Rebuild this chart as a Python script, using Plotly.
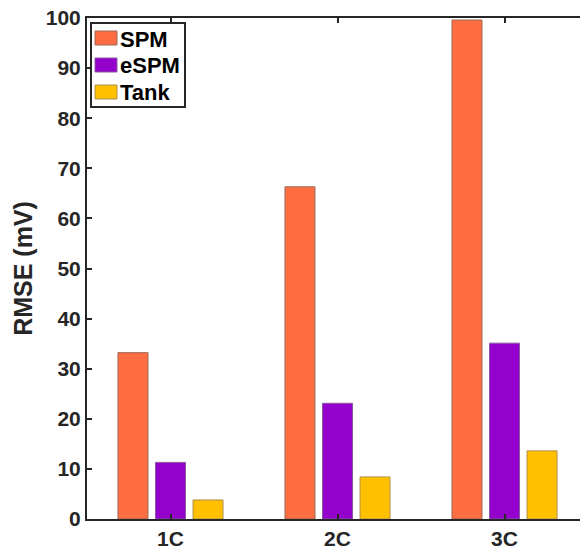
import plotly.graph_objects as go

categories = ["1C", "2C", "3C"]
spm = [33.2, 66.3, 99.6]
espm = [11.3, 23.1, 35.1]
tank = [3.8, 8.4, 13.6]
series_names = ["SPM", "eSPM", "Tank"]
colors = ["#FF6D42", "#9400CC", "#FFC000"]
edge_colors = ["#9a6a55", "#8a5aa0", "#b09050"]
y_ticks = [0, 10, 20, 30, 40, 50, 60, 70, 80, 90, 100]

W, H = 580, 547
ML, MR, MT, MB = 87, 0, 18, 28
PW, PH = W - ML - MR, H - MT - MB


def px(x):
    return (x - ML) / PW


def py(y):
    return (H - MB - y) / PH


fig = go.Figure()
for name, vals, c, ec in zip(series_names, [spm, espm, tank], colors, edge_colors):
    fig.add_trace(go.Bar(x=categories, y=vals, name=name, showlegend=False,
                         marker=dict(color=c, line=dict(color=ec, width=1))))

# custom legend (box, swatches, labels)
shapes = [dict(type="rect", xref="paper", yref="paper",
               x0=px(91), x1=px(185), y0=py(107), y1=py(23),
               line=dict(color="#262626", width=2), fillcolor="white", layer="above")]
annotations = []
for i, (name, c, ec) in enumerate(zip(series_names, colors, edge_colors)):
    cy = 38 + 27 * i
    shapes.append(dict(type="rect", xref="paper", yref="paper",
                       x0=px(95), x1=px(117), y0=py(cy + 7), y1=py(cy - 7),
                       line=dict(color=ec, width=1), fillcolor=c, layer="above"))
    annotations.append(dict(xref="paper", yref="paper", x=px(118), y=py(cy + 1),
                            xanchor="left", yanchor="middle", showarrow=False,
                            text=name, font=dict(size=22, color="black", weight="bold")))

font_family = "Liberation Sans, Arial, sans-serif"
fig.update_layout(
    width=W, height=H,
    margin=dict(l=ML, r=MR, t=MT, b=MB, autoexpand=False),
    plot_bgcolor="white", paper_bgcolor="white",
    barmode="group", bargap=0.326, bargroupgap=0.2,
    font=dict(family=font_family, size=21, color="#262626", weight="bold"),
    showlegend=False,
    shapes=shapes,
    annotations=annotations,
    xaxis=dict(range=[-0.5, 2.452], showline=True, linecolor="#262626", linewidth=2,
               mirror="ticks", ticks="inside", ticklen=5, tickwidth=2, tickcolor="#262626",
               showgrid=False, zeroline=False, ticklabelstandoff=0, automargin=False,
               tickfont=dict(size=21, weight="bold", color="#262626")),
    yaxis=dict(range=[0, 100], tickvals=y_ticks, showline=True, linecolor="#262626",
               linewidth=2, mirror=False, ticks="inside", ticklen=5, tickwidth=2,
               tickcolor="#262626", showgrid=False, zeroline=False, automargin=False,
               tickfont=dict(size=21, weight="bold", color="#262626"),
               title=dict(text="RMSE (mV)", standoff=6,
                          font=dict(size=25, weight="bold", color="#262626"))),
)

fig.write_html("out.html")
